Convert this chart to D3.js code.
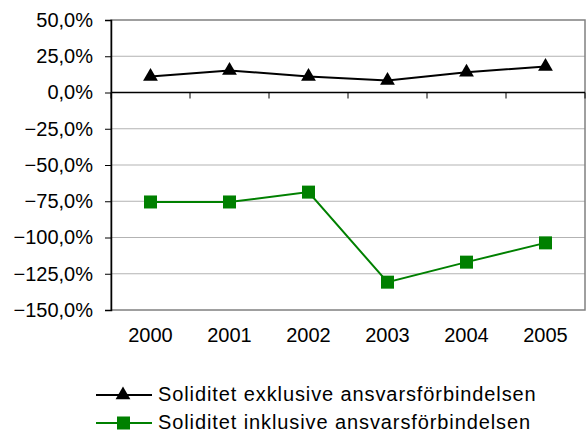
<!DOCTYPE html>
<html>
<head>
<meta charset="utf-8">
<script src="https://cdn.jsdelivr.net/npm/d3@7"></script>
<style>
  body { margin: 0; background: #fff; }
  svg text { font-family: "Liberation Sans", Arial, sans-serif; font-size: 20px; fill: #000; }
  .grid line { stroke: #b3b3b3; stroke-width: 1; }
  .legend text { letter-spacing: 0.9px; }
</style>
</head>
<body>
<div id="chart"></div>
<script>
// Data
const years = ["2000", "2001", "2002", "2003", "2004", "2005"];
const exklusive = [11.0, 15.2, 11.0, 8.3, 14.0, 17.9];
const inklusive = [-75.5, -75.5, -68.7, -130.8, -117.0, -103.7];
const yTicks = [50, 25, 0, -25, -50, -75, -100, -125, -150];
const seriesNames = ["Soliditet exklusive ansvarsförbindelsen", "Soliditet inklusive ansvarsförbindelsen"];

const width = 587, height = 434;
const margin = {top: 20, right: 2, bottom: 124, left: 111};
const pw = width - margin.left - margin.right;
const ph = height - margin.top - margin.bottom;

const svg = d3.select("#chart").append("svg")
    .attr("width", width).attr("height", height);
const g = svg.append("g").attr("transform", "translate(" + margin.left + "," + margin.top + ")");

const x = d3.scaleBand().domain(years).range([0, pw]);
const y = d3.scaleLinear().domain([-150, 50]).range([ph, 0]);
const cx = d => x(d) + x.bandwidth() / 2;

// Gridlines
g.append("g").attr("class", "grid")
    .selectAll("line").data(yTicks.filter(t => t !== 0 && t !== 50 && t !== -150))
    .enter().append("line")
    .attr("x1", 0).attr("x2", pw)
    .attr("y1", d => y(d)).attr("y2", d => y(d));

// Plot border (gray)
g.append("rect")
    .attr("x", 0).attr("y", 0).attr("width", pw).attr("height", ph)
    .attr("fill", "none").attr("stroke", "#808080").attr("stroke-width", 1.5);

// Y axis
const yAxis = d3.axisLeft(y).tickValues(yTicks).tickSize(6).tickPadding(12)
    .tickFormat(d => d3.format(".1f")(d).replace(".", ",") + "%");
const yg = g.append("g").call(yAxis);
yg.select(".domain").attr("stroke", "#000").attr("stroke-width", 1.5);
yg.selectAll(".tick line").attr("stroke", "#000");
yg.selectAll("text").style("font-size", "20px").style("font-family", "'Liberation Sans', Arial, sans-serif");

// Zero axis with category ticks pointing down
const zg = g.append("g").attr("transform", "translate(0," + y(0) + ")");
zg.append("line").attr("x1", 0).attr("x2", pw).attr("stroke", "#000").attr("stroke-width", 1.5);
const bounds = years.map(d => x(d)).concat([pw]);
zg.selectAll("line.tk").data(bounds).enter().append("line")
    .attr("class", "tk")
    .attr("x1", d => d).attr("x2", d => d).attr("y1", 0).attr("y2", 6)
    .attr("stroke", "#000").attr("stroke-width", 1);

// Category labels at the bottom
g.append("g").selectAll("text").data(years).enter().append("text")
    .attr("x", d => cx(d)).attr("y", ph + 32)
    .attr("text-anchor", "middle").text(d => d);

// Lines
const line = d3.line().x((d, i) => cx(years[i])).y(d => y(d));
g.append("path").datum(exklusive).attr("d", line)
    .attr("fill", "none").attr("stroke", "#000").attr("stroke-width", 2);
g.append("path").datum(inklusive).attr("d", line)
    .attr("fill", "none").attr("stroke", "#008000").attr("stroke-width", 2);

// Markers
const tri = d3.symbol().type(d3.symbolTriangle).size(95);
g.append("g").selectAll("path").data(exklusive).enter().append("path")
    .attr("d", tri)
    .attr("transform", (d, i) => "translate(" + cx(years[i]) + "," + y(d) + ")")
    .attr("fill", "#000");
g.append("g").selectAll("rect").data(inklusive).enter().append("rect")
    .attr("x", (d, i) => cx(years[i]) - 6.5).attr("y", d => y(d) - 6.5)
    .attr("width", 13).attr("height", 13).attr("fill", "#008000");

// Legend
const legend = svg.append("g").attr("class", "legend").attr("transform", "translate(96,395)");
const colors = ["#000", "#008000"];
seriesNames.forEach((name, i) => {
  const row = legend.append("g").attr("transform", "translate(0," + (i * 28) + ")");
  row.append("line").attr("x1", 0).attr("x2", 56).attr("stroke", colors[i]).attr("stroke-width", 2);
  if (i === 0) {
    row.append("path").attr("d", tri).attr("transform", "translate(27,0)").attr("fill", colors[i]);
  } else {
    row.append("rect").attr("x", 21).attr("y", -6.5).attr("width", 13).attr("height", 13).attr("fill", colors[i]);
  }
  row.append("text").attr("x", 62).attr("y", 6).text(name);
});
</script>
</body>
</html>
